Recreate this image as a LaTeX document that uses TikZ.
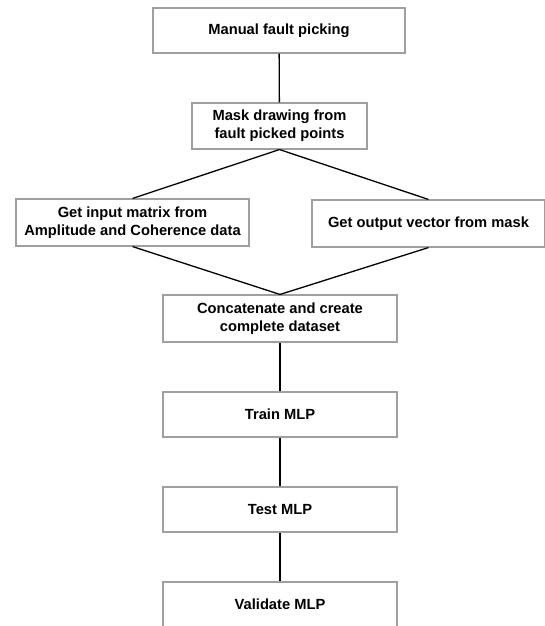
\documentclass[tikz,border=0pt]{standalone}
\usepackage{fontspec}
\setmainfont{Liberation Sans}
\usepackage{tikz}
\usetikzlibrary{positioning}

\begin{document}
\begin{tikzpicture}[x=1pt,y=-1pt,
                    stage/.style={draw=gray!75,line width=1.1pt,align=center,inner sep=0pt,minimum height=45pt,font=\fontsize{14.7}{18}\selectfont\bfseries},
                    link/.style={black,line width=1.3pt}]
                                \useasboundingbox (0,0) rectangle (544,626);
                                \node[stage,minimum width=252pt] (pick) at (279,30.5) {Manual fault picking};
                                \node[stage,minimum width=175pt,minimum height=46pt] (mask) at (279.5,126) {Mask drawing from\\fault picked points};
                                \node[stage,minimum width=233pt,minimum height=47pt] (inmat) at (132.5,222.5) {Get input matrix from\\Amplitude and Coherence data};
                                \node[stage,minimum width=233pt,minimum height=47pt] (outvec) at (428.5,223.5) {Get output vector from mask};
                                \node[stage,minimum width=234pt,minimum height=47pt] (concat) at (280,318.5) {Concatenate and create\\complete dataset};
                                \node[stage,minimum width=234pt] (train) at (280,414.5) {Train MLP};
                                \node[stage,minimum width=234pt] (test) at (280,509.5) {Test MLP};
                                \node[stage,minimum width=234pt] (valid) at (280,604.5) {Validate MLP};

                                \draw[link] (pick) -- (mask);
                                \draw[link] (mask.south) -- (inmat.north);
                                \draw[link] (mask.south) -- (outvec.north);
                                \draw[link] (inmat.south) -- (concat.north);
                                \draw[link] (outvec.south) -- (concat.north);
                                \draw[link] (concat) -- (train);
                                \draw[link] (train) -- (test);
                                \draw[link] (test) -- (valid);
                            \end{tikzpicture}
\end{document}
